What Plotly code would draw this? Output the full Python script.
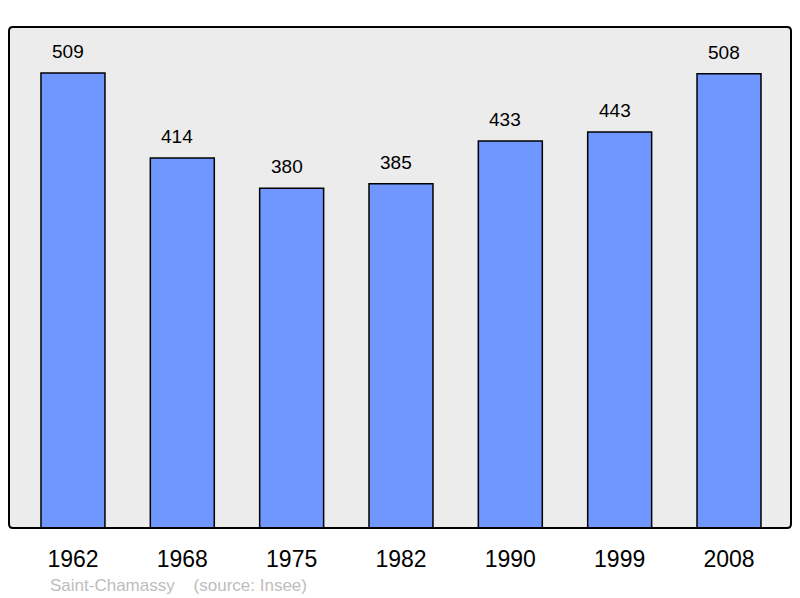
import plotly.graph_objects as go

# 人口資料 (Saint-Chamassy, source: Insee)
years = ["1962", "1968", "1975", "1982", "1990", "1999", "2008"]
population = [509, 414, 380, 385, 433, 443, 508]

fig = go.Figure()

fig.add_trace(go.Bar(
    x=years,
    y=population,
    width=0.585,
    marker=dict(color="#7096ff", line=dict(color="#000000", width=1.5)),
    hoverinfo="x+y",
))

# 數值標籤放在柱子上方 (類別軸上用索引定位，略偏左)
for i, val in enumerate(population):
    fig.add_annotation(
        x=i, y=val, text=str(val), showarrow=False,
        yanchor="bottom", yshift=9, xshift=-5,
        font=dict(family="Liberation Sans, Arial, sans-serif", size=19, color="#000000"),
    )

# 底部來源文字
fig.add_annotation(
    xref="paper", yref="paper", x=0.0505, y=-0.114,
    xanchor="left", yanchor="middle", showarrow=False,
    text="Saint-Chamassy" + "&nbsp;" * 4 + "(source: Insee)",
    font=dict(family="Liberation Sans, Arial, sans-serif", size=17, color="#bdbdbd"),
)

# 圓角外框
rx, ry = 0.005, 0.008
frame = (f"M {rx},0 L {1-rx},0 Q 1,0 1,{ry} L 1,{1-ry} Q 1,1 {1-rx},1 "
         f"L {rx},1 Q 0,1 0,{1-ry} L 0,{ry} Q 0,0 {rx},0 Z")
fig.add_shape(
    type="path", xref="paper", yref="paper", path=frame,
    line=dict(color="#000000", width=2), layer="above",
)

fig.update_layout(
    width=800, height=598,
    margin=dict(l=9, r=9, t=27, b=70),
    plot_bgcolor="#ececec",
    paper_bgcolor="#ffffff",
    showlegend=False,
    font=dict(family="Liberation Sans, Arial, sans-serif"),
)

fig.update_xaxes(
    type="category",
    range=[-0.585, 6.567], showgrid=False, zeroline=False,
    ticks="outside", ticklen=10, tickcolor="rgba(0,0,0,0)",
    tickfont=dict(size=23, color="#000000"),
)
fig.update_yaxes(
    range=[0, 560.4], showgrid=False, zeroline=False, showticklabels=False,
)

# 去掉頁面預設邊距與工具列，讓圖表貼齊視窗
fig.write_html(
    "out.html",
    config={"displayModeBar": False},
    post_script="document.body.style.margin='0';",
)
